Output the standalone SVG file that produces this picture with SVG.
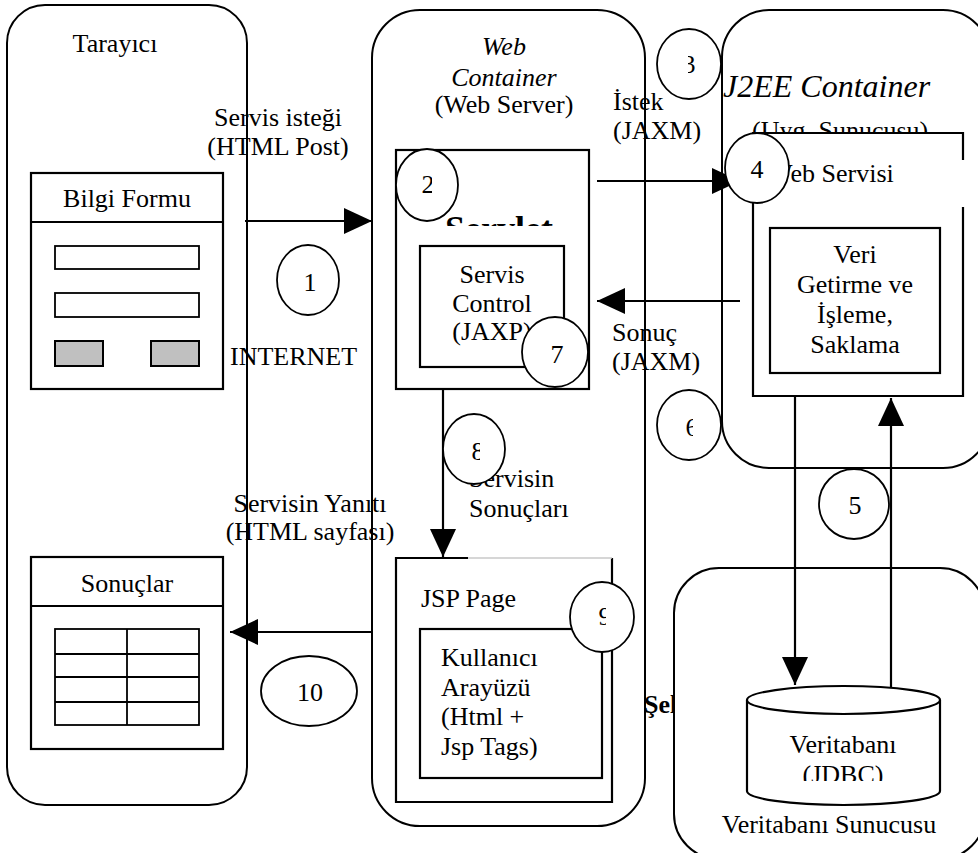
<svg xmlns="http://www.w3.org/2000/svg" width="978" height="859" viewBox="0 0 978 859">
<style>
text{font-family:'Liberation Serif','Times New Roman',Tinos,'DejaVu Serif',serif;font-size:26px;fill:#000}
.it{font-style:italic}
.b{font-weight:bold}
.m{text-anchor:middle}
.cont{fill:none;stroke:#000;stroke-width:2}
.box{fill:#fff;stroke:#000;stroke-width:2.2}
.thin{fill:none;stroke:#000;stroke-width:1.8}
.circ{fill:#fff;stroke:#000;stroke-width:1.8}
.btn{fill:#c0c0c0;stroke:#000;stroke-width:2}
.conn{fill:none;stroke:#000;stroke-width:2.2}
</style>
<defs>
<marker id="ah" markerUnits="userSpaceOnUse" markerWidth="28" markerHeight="28" refX="28" refY="13" orient="auto">
<path d="M0,0 L28,13 L0,26 Z" fill="#000"/>
</marker>
<clipPath id="cServlet"><rect x="400" y="200" width="180" height="26"/></clipPath>
<clipPath id="cSel"><rect x="645" y="680" width="29" height="50"/></clipPath>
<clipPath id="cJdbc"><rect x="760" y="750" width="170" height="31"/></clipPath>
<clipPath id="cDbSrv"><rect x="660" y="550" width="330" height="303"/></clipPath>
<clipPath id="c2"><rect x="421" y="170" width="11" height="30"/></clipPath>
<clipPath id="c3"><rect x="688" y="50" width="10" height="30"/></clipPath>
<clipPath id="c6"><rect x="680" y="410" width="13" height="30"/></clipPath>
<clipPath id="c8"><rect x="465" y="440" width="15" height="30"/></clipPath>
<clipPath id="c9"><rect x="592" y="600" width="14" height="30"/></clipPath>
</defs>

<g font-family="'Liberation Serif', 'Times New Roman', serif">
<!-- Tarayici -->
<g id="tarayici">
<rect class="cont" x="7" y="5" width="240" height="800" rx="38" ry="38"/>
<text class="m" x="115" y="52">Tarayıcı</text>
</g>

<g id="bilgi-formu">
<rect class="box" x="31" y="173" width="192" height="216"/>
<line class="thin" x1="31" y1="222" x2="223" y2="222" style="stroke-width:2.2"/>
<text class="m" x="127" y="207">Bilgi Formu</text>
<rect class="thin" x="55" y="246" width="144" height="23"/>
<rect class="thin" x="55" y="293" width="144" height="24"/>
<rect class="btn" x="55" y="341" width="48" height="25"/>
<rect class="btn" x="151" y="341" width="48" height="25"/>
</g>

<g id="sonuclar">
<rect class="box" x="31" y="557" width="192" height="192"/>
<line class="thin" x1="31" y1="606" x2="223" y2="606" style="stroke-width:2.2"/>
<text class="m" x="127" y="592">Sonuçlar</text>
<rect class="thin" x="55" y="629" width="144" height="96"/>
<line class="thin" x1="55" y1="654" x2="199" y2="654"/>
<line class="thin" x1="55" y1="677" x2="199" y2="677"/>
<line class="thin" x1="55" y1="702" x2="199" y2="702"/>
<line class="thin" x1="127" y1="629" x2="127" y2="725"/>
</g>

<!-- Web container -->
<g id="web-container">
<rect class="cont" x="372" y="10" width="273" height="816" rx="48" ry="48"/>
<text class="m it" x="504" y="55">Web</text>
<text class="m it" x="504" y="86">Container</text>
<text class="m" x="504" y="113">(Web Server)</text>
</g>

<g id="servlet">
<rect class="box" x="396" y="150" width="193" height="239"/>
<text class="b" x="445" y="241" clip-path="url(#cServlet)" style="font-size:36px">Servlet</text>
</g>

<g id="servis-control">
<rect class="box" x="420" y="246" width="144" height="121"/>
<text class="m" x="492" y="283">Servis</text>
<text class="m" x="492" y="312">Control</text>
<text class="m" x="492" y="340">(JAXP)</text>
</g>

<g id="jsp-page">
<rect x="396" y="558" width="216" height="244" fill="#fff" stroke="none"/>
<path class="thin" d="M468,558 H396 V802 H612 V558" style="stroke-width:2.2"/>
<line x1="468" y1="558" x2="612" y2="558" stroke="#c8c8c8" stroke-width="1.5"/>
<text x="421" y="607">JSP Page</text>
</g>

<g id="kullanici-arayuzu">
<rect class="box" x="420" y="629" width="182" height="149"/>
<text x="441" y="666">Kullanıcı</text>
<text x="441" y="696">Arayüzü</text>
<text x="441" y="725">(Html +</text>
<text x="441" y="755">Jsp Tags)</text>
</g>

<!-- J2EE container -->
<g id="j2ee-container">
<rect class="cont" x="722" y="10" width="268" height="458" rx="47" ry="47"/>
<text class="it" x="723" y="97" style="font-size:32px">J2EE Container</text>
<text x="752" y="139">(Uyg. Sunucusu)</text>
</g>

<g id="web-servisi">
<rect x="753" y="133" width="210" height="263" fill="#fff" stroke="none"/>
<path class="thin" d="M963,160 V133 H753 V396 H963 V207" style="stroke-width:2.2"/>
<text x="768" y="182">Web Servisi</text>
</g>

<g id="veri-getirme">
<rect class="box" x="770" y="228" width="170" height="145"/>
<text class="m" x="855" y="263">Veri</text>
<text class="m" x="855" y="293">Getirme ve</text>
<text class="m" x="855" y="323">İşleme,</text>
<text class="m" x="855" y="353">Saklama</text>
</g>

<!-- DB server -->
<g id="veritabani-sunucusu">
<rect class="cont" x="674" y="568" width="311" height="291" rx="45" ry="45" clip-path="url(#cDbSrv)"/>
<text class="m" x="829" y="833">Veritabanı Sunucusu</text>
</g>

<g id="veritabani">
<path d="M747,700 V791 A96.5,14 0 0 0 940,791 V700" fill="#fff" stroke="#000" stroke-width="2.2"/>
<ellipse cx="843.5" cy="700" rx="96.5" ry="14" fill="#fff" stroke="#000" stroke-width="2.2"/>
<text class="m" x="843" y="753">Veritabanı</text>
<text class="m" x="843" y="783" clip-path="url(#cJdbc)">(JDBC)</text>
</g>

<text class="b" x="644" y="713" clip-path="url(#cSel)">Şel</text>

<!-- connector labels -->
<g id="labels">
<text class="m" x="278" y="126">Servis isteği</text>
<text class="m" x="278" y="155">(HTML Post)</text>
<text x="230" y="365">INTERNET</text>
<text x="613" y="110">İstek</text>
<text x="613" y="139">(JAXM)</text>
<text x="612" y="341">Sonuç</text>
<text x="612" y="370">(JAXM)</text>
<text x="469" y="487">Servisin</text>
<text x="469" y="517">Sonuçları</text>
<text class="m" x="310" y="512">Servisin Yanıtı</text>
<text class="m" x="310" y="540">(HTML sayfası)</text>
</g>

<!-- connectors -->
<g id="connectors">
<path class="conn" d="M245,221 H372" marker-end="url(#ah)"/>
<path class="conn" d="M597,181 H740" marker-end="url(#ah)"/>
<path class="conn" d="M740,301 H597" marker-end="url(#ah)"/>
<path class="conn" d="M443,390 V557" marker-end="url(#ah)"/>
<path class="conn" d="M372,632 H230" marker-end="url(#ah)"/>
<path class="conn" d="M795,396 V685" marker-end="url(#ah)"/>
<path class="conn" d="M891,688 V398" marker-end="url(#ah)"/>
</g>

<!-- step circles -->
<g id="step-1"><ellipse class="circ" cx="308" cy="280" rx="31" ry="35"/><text class="m" x="310" y="291">1</text></g>
<g id="step-2"><ellipse class="circ" cx="427" cy="185" rx="31" ry="36"/><text class="m" x="428" y="193" clip-path="url(#c2)">2</text></g>
<g id="step-3"><ellipse class="circ" cx="689" cy="64" rx="32" ry="35"/><text class="m" x="689" y="73" clip-path="url(#c3)">3</text></g>
<g id="step-4"><ellipse class="circ" cx="757" cy="168" rx="32" ry="35"/><text class="m" x="757" y="178">4</text></g>
<g id="step-5"><ellipse class="circ" cx="854" cy="504" rx="35" ry="35"/><text class="m" x="855" y="514">5</text></g>
<g id="step-6"><ellipse class="circ" cx="689" cy="425" rx="32" ry="35"/><text class="m" x="692" y="436" clip-path="url(#c6)">6</text></g>
<g id="step-7"><ellipse class="circ" cx="555" cy="352" rx="33" ry="35"/><text class="m" x="557" y="363">7</text></g>
<g id="step-8"><ellipse class="circ" cx="474" cy="449" rx="31" ry="35"/><text class="m" x="478" y="460" clip-path="url(#c8)">8</text></g>
<g id="step-9"><ellipse class="circ" cx="602" cy="617" rx="32" ry="35"/><text class="m" x="605" y="625" clip-path="url(#c9)">9</text></g>
<g id="step-10"><ellipse class="circ" cx="309" cy="691" rx="48" ry="35"/><text class="m" x="310" y="701">10</text></g>
</g>
</svg>
